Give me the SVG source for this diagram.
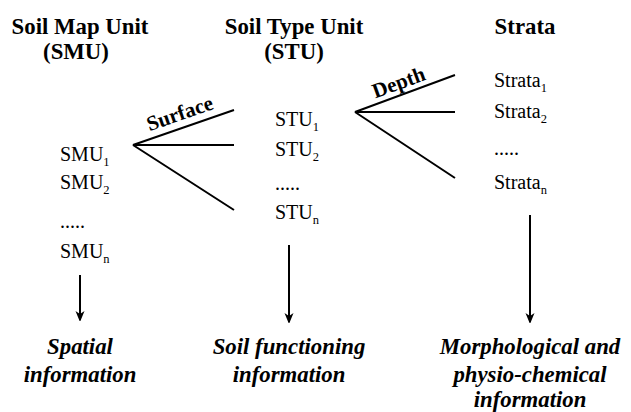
<svg xmlns="http://www.w3.org/2000/svg" width="631" height="412" viewBox="0 0 631 412">
<defs>
<style>
text{font-family:'Liberation Serif','Times New Roman',serif;fill:#000}
.h{font-weight:bold;font-size:22.8px;text-anchor:middle}
.it{font-size:20px}
.sub{font-size:12.5px}
.lab{font-weight:bold;font-size:21px;text-anchor:middle}
.bi{font-weight:bold;font-style:italic;font-size:22.8px;text-anchor:middle}
.ln{stroke:#000;stroke-width:2;fill:none}
</style>
<marker id="ah" markerWidth="10" markerHeight="14" refX="9" refY="6" orient="auto" markerUnits="userSpaceOnUse">
<path d="M0,1.5 L11,6 L0,10.5 L3,6 Z" fill="#000"/>
</marker>
</defs>
<g id="smu">
<text class="h" x="80" y="34">Soil Map Unit</text>
<text class="h" x="76" y="59">(SMU)</text>
<text class="it" x="60" y="161">SMU<tspan class="sub" dy="5">1</tspan></text>
<text class="it" x="60" y="189">SMU<tspan class="sub" dy="5">2</tspan></text>
<text class="it" x="60" y="228">.....</text>
<text class="it" x="60" y="258">SMU<tspan class="sub" dy="5">n</tspan></text>
</g>
<g id="stu">
<text class="h" x="294" y="34">Soil Type Unit</text>
<text class="h" x="294" y="59">(STU)</text>
<text class="it" x="275" y="126">STU<tspan class="sub" dy="5">1</tspan></text>
<text class="it" x="275" y="156">STU<tspan class="sub" dy="5">2</tspan></text>
<text class="it" x="275" y="190">.....</text>
<text class="it" x="275" y="219">STU<tspan class="sub" dy="5">n</tspan></text>
</g>
<g id="strata">
<text class="h" x="525" y="34">Strata</text>
<text class="it" x="494" y="87">Strata<tspan class="sub" dy="5">1</tspan></text>
<text class="it" x="494" y="118">Strata<tspan class="sub" dy="5">2</tspan></text>
<text class="it" x="494" y="155">.....</text>
<text class="it" x="494" y="189">Strata<tspan class="sub" dy="5">n</tspan></text>
</g>
<g id="spatial">
<text class="bi" x="80" y="354">Spatial</text>
<text class="bi" x="80" y="382">information</text>
</g>
<g id="functioning">
<text class="bi" x="289" y="354">Soil functioning</text>
<text class="bi" x="289" y="382">information</text>
</g>
<g id="morph">
<text class="bi" x="530" y="354">Morphological and</text>
<text class="bi" x="530" y="382">physio-chemical</text>
<text class="bi" x="530" y="407">information</text>
</g>
<g id="connectors">
<path class="ln" d="M234,110 L133,145 L234,145 M133,145 L234,210"/>
<path class="ln" d="M455,75 L355,112 L455,112 M355,112 L455,178"/>
<text class="lab" x="182" y="120" transform="rotate(-19 182 120)">Surface</text>
<text class="lab" x="401" y="89" transform="rotate(-20 401 89)">Depth</text>
<line class="ln" x1="80" y1="275" x2="80" y2="320" marker-end="url(#ah)"/>
<line class="ln" x1="289" y1="245" x2="289" y2="322" marker-end="url(#ah)"/>
<line class="ln" x1="530" y1="215" x2="530" y2="322" marker-end="url(#ah)"/>
</g>
</svg>
